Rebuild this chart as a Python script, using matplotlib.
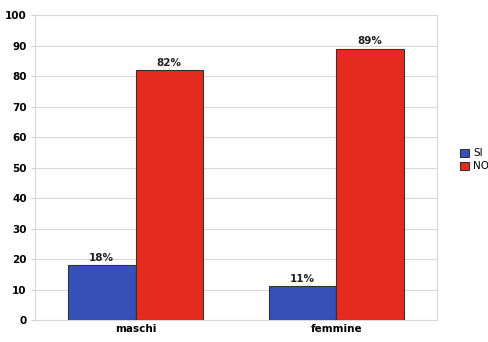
import matplotlib.pyplot as plt
import numpy as np

categories = ['maschi', 'femmine']
si = [18, 11]
no = [82, 89]

fig = plt.figure(figsize=(4.89, 3.42), dpi=100)
ax = fig.add_axes([0.0716, 0.0643, 0.822, 0.8917])

x = np.arange(len(categories))
w = 0.336
b1 = ax.bar(x - w / 2, si, w, color='#3650b8', edgecolor='#333333', linewidth=0.8, label='SI', zorder=3)
b2 = ax.bar(x + w / 2, no, w, color='#e52b1f', edgecolor='#333333', linewidth=0.8, label='NO', zorder=3)

for bars, vals in ((b1, si), (b2, no)):
    for r, v in zip(bars, vals):
        ax.text(r.get_x() + r.get_width() / 2, v + 0.8, f'{v}%', ha='center', va='bottom',
                fontsize=7.5, fontweight='bold', color='#222222')

ax.set_xlim(-0.5, 1.5)
ax.set_ylim(0, 100)
ax.set_yticks(range(0, 101, 10))
ax.set_xticks(x)
ax.set_xticklabels(categories)
ax.tick_params(axis='both', labelsize=7.5, length=3, color='#cccccc', pad=3)
for lab in ax.get_yticklabels() + ax.get_xticklabels():
    lab.set_fontweight('bold')
ax.tick_params(axis='x', length=0)
ax.yaxis.grid(True, color='#d8d8d8', linewidth=0.8, zorder=0)
for s in ax.spines.values():
    s.set_color('#d8d8d8')
    s.set_linewidth(0.8)

ax.legend(loc='center left', bbox_to_anchor=(1.035, 0.525), frameon=False, fontsize=7.5,
          handlelength=0.8, handleheight=0.8, handletextpad=0.4, labelspacing=0.3)

fig.savefig('out.png')
